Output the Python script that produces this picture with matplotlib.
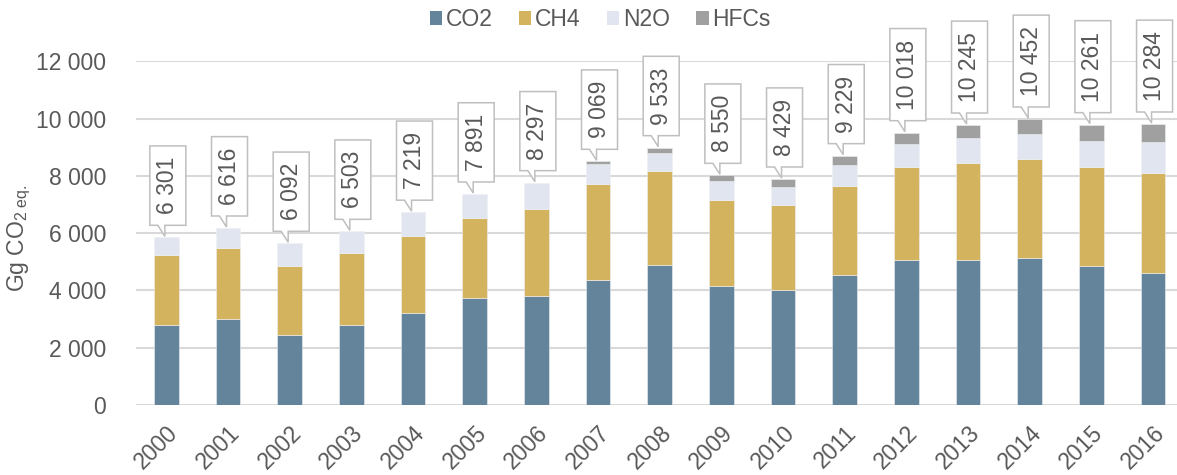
import matplotlib
matplotlib.use("Agg")
import matplotlib.pyplot as plt
from matplotlib.patches import Polygon, Patch
from matplotlib.ticker import FuncFormatter, MultipleLocator
import numpy as np

plt.rcParams['font.family'] = ['Liberation Sans', 'DejaVu Sans']
plt.rcParams['mathtext.fontset'] = 'custom'
plt.rcParams['mathtext.rm'] = 'Liberation Sans'
plt.rcParams['mathtext.it'] = 'Liberation Sans:italic'

# Emissions by gas, Gg CO2 eq.
years = [str(y) for y in range(2000, 2017)]
co2 = [2803, 3012, 2443, 2803, 3222, 3745, 3815, 4375, 4898, 4165, 4025, 4538, 5073, 5073, 5143, 4864, 4596]
ch4 = [2422, 2468, 2420, 2514, 2683, 2794, 3038, 3349, 3257, 2979, 2968, 3118, 3246, 3385, 3455, 3443, 3502]
n2o = [628, 698, 781, 745, 820, 810, 880, 677, 652, 674, 627, 710, 802, 872, 849, 919, 1070]
hfcs = [0, 0, 0, 0, 5, 16, 27, 105, 175, 199, 268, 337, 384, 443, 536, 559, 640]
# Totals shown in the callouts
totals = [6301, 6616, 6092, 6503, 7219, 7891, 8297, 9069, 9533, 8550, 8429, 9229,
          10018, 10245, 10452, 10261, 10284]

series_names = ["CO2", "CH4", "N2O", "HFCs"]
colors = ["#64849B", "#D4B35E", "#E1E5F0", "#A0A0A0"]
text_color = "#595959"
grid_color = "#D9D9D9"
FS = 16.5

W, H = 1177, 475
fig = plt.figure(figsize=(W / 100, H / 100), dpi=100)
ax_left, ax_right = 135.5, 1177
ax_bottom, ax_top = 405, 61.2
ax = fig.add_axes([ax_left / W, (H - ax_bottom) / H,
                   (ax_right - ax_left) / W, (ax_bottom - ax_top) / H])

x = np.arange(len(years))
bottom = np.zeros(len(years))
for vals, name, col in zip([co2, ch4, n2o, hfcs], series_names, colors):
    vals = np.array(vals, dtype=float)
    ax.bar(x, vals, width=0.4, bottom=bottom, color=col, label=name,
           edgecolor="#EEF0F4", linewidth=0.4, zorder=3)
    bottom += vals
tops = bottom.copy()

ax.set_xlim(-0.5, -0.5 + (ax_right - ax_left) / 61.67)
ax.set_ylim(0, 12000)
ax.yaxis.set_major_locator(MultipleLocator(2000))
ax.yaxis.set_major_formatter(FuncFormatter(lambda v, p: f"{int(v):,}".replace(",", " ")))
ax.grid(axis="y", color=grid_color, linewidth=1.5, zorder=0)
for s in ax.spines.values():
    s.set_visible(False)
ax.tick_params(axis="both", length=0, labelsize=FS, labelcolor=text_color)
ax.tick_params(axis="y", pad=21)
ax.set_xticks(x)
ax.set_xticklabels(years, rotation=45, ha="right", rotation_mode="anchor")
ax.tick_params(axis="x", pad=12)

fig.text(19 / W, 1 - 238 / H, r"Gg CO$_{2\ \mathrm{eq.}}$", rotation=90,
         ha="center", va="center", fontsize=FS, color=text_color)

# Legend with square swatches
handles = [Patch(facecolor=c, edgecolor="none") for c in colors]
fig.legend(handles, series_names, loc="center", bbox_to_anchor=(600 / W, 1 - 20 / H),
           ncol=4, frameon=False, fontsize=FS, handlelength=0.55, handleheight=0.55,
           handletextpad=0.15, columnspacing=1.15, labelcolor=text_color)

# Callout boxes with totals above each bar (pixel geometry)
renderer = fig.canvas.get_renderer()
for i, (t, tot) in enumerate(zip(tops, totals)):
    cx, cy = ax.transData.transform((i, t))
    tip_x, tip_y = cx - 1.5, cy + 1
    L = tip_x - 15
    R = L + 36
    B = cy + 12
    label = f"{tot:,}".replace(",", " ")
    txt = fig.text((L + 18) / W, (B + 11) / H, label, rotation=90,
                   ha="center", va="bottom", fontsize=FS, color=text_color, zorder=6)
    ext = txt.get_window_extent(renderer)
    T = ext.y1 + 11
    pts = [(L, B), (L + 8, B), (tip_x, tip_y), (tip_x, B), (R, B), (R, T), (L, T)]
    poly = Polygon(pts, closed=True, facecolor="white", edgecolor="#BFBFBF",
                   linewidth=1.1, transform=None, zorder=5)
    fig.add_artist(poly)

fig.savefig("out.png", dpi=100)
